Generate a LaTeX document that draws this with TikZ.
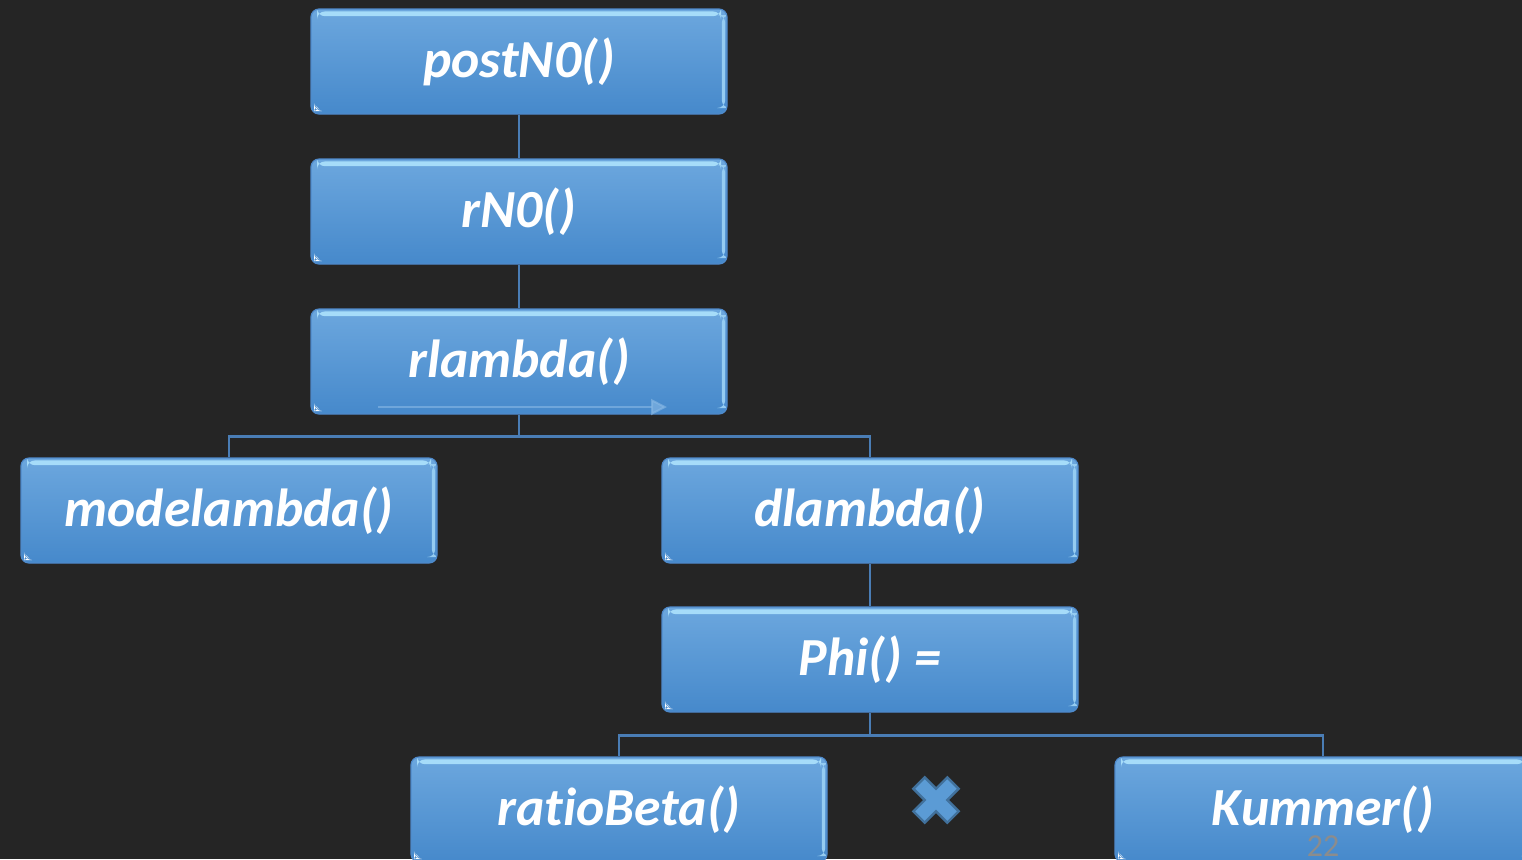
\documentclass[tikz,border=0pt]{standalone}
\usepackage{fontspec}
\setmainfont{Carlito}[Ligatures={NoCommon}]
\usetikzlibrary{arrows.meta}
\definecolor{bgc}{HTML}{252525}
\definecolor{boxtop}{HTML}{6CA7DE}
\definecolor{boxbot}{HTML}{4689CB}
\definecolor{boxedge}{HTML}{4F8ACB}
\definecolor{hilite}{HTML}{A6DCF9}
\definecolor{connc}{HTML}{4A7DB5}
\definecolor{xfill}{HTML}{5B9BD5}
\definecolor{xedge}{HTML}{41719C}
\tikzset{
  fbox/.style={rectangle, rounded corners=4pt, minimum width=208pt, minimum height=52.5pt,
    inner sep=0pt, top color=boxtop, bottom color=boxbot, draw=boxedge, line width=0.6pt,
    text=white, font=\fontsize{26.8}{30}\selectfont\bfseries\itshape,
    path picture={
      \fill[hilite] ([xshift=3pt,yshift=-1.2pt]path picture bounding box.north west) rectangle ([xshift=-3pt,yshift=-3.6pt]path picture bounding box.north east);
      \fill[hilite!70!boxtop] ([xshift=-2.6pt,yshift=-3pt]path picture bounding box.north east) rectangle ([xshift=-0.9pt,yshift=3pt]path picture bounding box.south east);
      \fill[white] ([xshift=1.5pt,yshift=1.5pt]path picture bounding box.south west) -- ++(3.5pt,0) -- ++(-3.5pt,3.5pt) -- cycle;
    }},
  conn/.style={draw=connc, line width=1.3pt},
}
\begin{document}
\begin{tikzpicture}[x=0.5pt,y=-0.5pt]
\fill[bgc] (0,0) rectangle (1522,859);
\useasboundingbox (0,0) rectangle (1522,859);
\clip (0,0) rectangle (1522,859);
\node[fbox] (post) at (519,61.5) {postN0()};
\node[fbox] (rn) at (519,211.5) {rN0()};
\node[fbox] (rl) at (519,361.5) {rlambda()};
\node[fbox] (ml) at (229,510.5) {modelambda()};
\node[fbox] (dl) at (870,510.5) {dlambda()};
\node[fbox] (phi) at (870,659.5) {Phi() =};
\node[fbox] (rb) at (619,809.5) {ratioBeta()};
\node[fbox] (ku) at (1323,809.5) {Kummer()};
\coordinate (a1) at (378,407);
\coordinate (a2) at (667,407);
\draw[draw=boxtop!80!white, line width=1pt, -{Triangle[width=8pt,length=8pt]}, opacity=0.6] (a1) -- (a2);
\draw[conn] (post.south) -- (rn.north);
\draw[conn] (rn.south) -- (rl.north);
\draw[conn] (rl.south) -- ++(0,22) coordinate (j1);
\draw[conn] (j1) -| (ml.north);
\draw[conn] (j1) -| (dl.north);
\draw[conn] (dl.south) -- (phi.north);
\draw[conn] (phi.south) -- ++(0,23) coordinate (j2);
\draw[conn] (j2) -| (rb.north);
\draw[conn] (j2) -| (ku.north);
\draw[fill=xfill, draw=xedge, line width=1.2pt, rotate around={45:(936,800)}]
  (944,824) -- (944,808) -- (960,808) -- (960,792) -- (944,792) -- (944,776) -- (928,776) -- (928,792) -- (912,792) -- (912,808) -- (928,808) -- (928,824) -- cycle;
\node[text=gray!90, font=\fontsize{16}{18}\selectfont] (pg) at (1323,846) {22};
\end{tikzpicture}
\end{document}
